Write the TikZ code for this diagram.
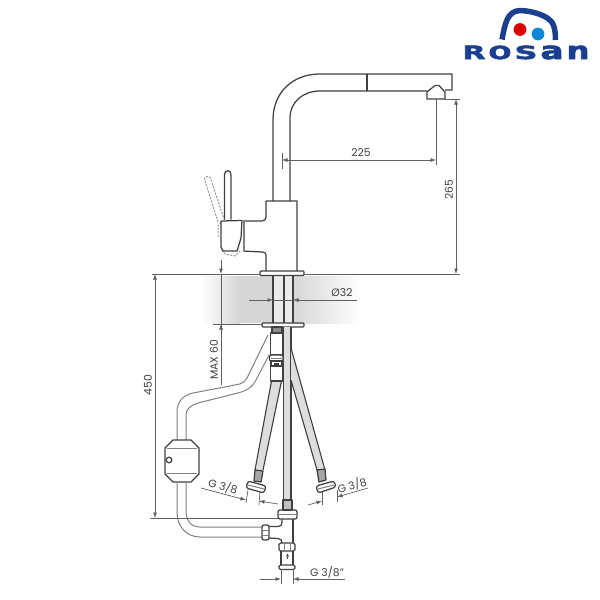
\documentclass[tikz,border=0pt]{standalone}
\usepackage{fontspec}
\setmainfont{Poppins}
\newfontfamily\logofont[FakeBold=2.5]{DejaVu Sans Bold}
\usetikzlibrary{arrows.meta,calc}
\definecolor{ink}{HTML}{404040}
\definecolor{dimc}{HTML}{606060}
\definecolor{pipec}{HTML}{808080}
\definecolor{logob}{HTML}{1B3F8F}
\definecolor{band}{HTML}{D6D6D6}
\definecolor{hosec}{HTML}{DDDDDD}
\tikzset{
  body/.style={draw=ink,line width=1.25pt,line join=round},
  thin body/.style={draw=pipec,line width=1pt},
  dimline/.style={draw=dimc,line width=.7pt},
  dimarrow/.style={dimline,{Latex[length=5.5pt,width=4pt]}-{Latex[length=5.5pt,width=4pt]}},
  onearrow/.style={dimline,-{Latex[length=5.5pt,width=4pt]}},
  dimtext/.style={text=ink,font=\fontsize{10.8}{11}\selectfont,inner sep=0pt},
  ghost/.style={draw=gray!80,line width=1pt,dash pattern=on 2.2pt off 1.2pt},
  hoseedge/.style={draw=ink,line width=1.1pt},
}
\newcommand{\logoletter}[1]{\resizebox{23pt}{13.5pt}{#1}}
\begin{document}
\begin{tikzpicture}[x=1pt,y=-1pt]
\useasboundingbox (0,0) rectangle (600,600);
% counter band
\shade[left color=white,right color=band,draw=none] (200,276) rectangle (240,323);
\fill[band] (240,276) rectangle (294,323);
\fill[white!92!black] (273,276) rectangle (293,323);
\shade[left color=band,right color=white,draw=none] (293,276) rectangle (362,323);
% logo
\draw[logob,line width=5.5pt,line cap=butt,line join=round] (502,39.5) .. controls (505,24) and (507,11) .. (520,10.5) .. controls (533,11) and (543,15) .. (548,18.5) .. controls (554,22) and (555.5,30) .. (555.5,40);
\fill[red!85!black] (520,29.5) circle (6.4);
\fill[cyan!70!blue] (538,34) circle (6.4);
\node[inner sep=0pt,anchor=center,text=logob] (logotext) at (526,52.5)
  {\logofont\logoletter{R}\hspace{3pt}\logoletter{O}\hspace{3pt}\logoletter{S}\hspace{3pt}\logoletter{a}\hspace{3pt}\logoletter{n}};
% spout
\draw[body] (273,201) -- (273,120) .. controls (273,92) and (293,74) .. (320,74) -- (452,74) -- (452,90) -- (445,90);
\draw[body] (290,201) -- (290,118) .. controls (290,102) and (303,91) .. (320,91) -- (427,91);
\draw[body] (367,74) -- (367,91);
\draw[body] (427,99) -- (427,92) -- (435,85.5) -- (439,85.5) -- (445,92) -- (445,99) -- cycle;
% body
\draw[body] (266,271) -- (266,255) .. controls (266,253) and (265,252) .. (262,252) -- (243,251);
\draw[body] (243,221) -- (262,221) .. controls (265,221) and (266,219) .. (266,217) -- (266,201) -- (297,201) -- (297,271);
\draw[body,rounded corners=1pt] (260,271) rectangle (304,275.5);
% handle
\draw[ghost,rounded corners=2pt] (218,222) -- (205,181) .. controls (204,176) and (210,176) .. (211,180) -- (224,219);
\draw[ghost] (221,222) -- (218,226) -- (218,238);
\draw[ghost] (222,250) -- (225,254) -- (235,256) -- (241,250);
\draw[body] (224.5,219.5) -- (224.5,174.5) .. controls (224.5,169.5) and (231,169.5) .. (231,174.5) -- (231,219.5);
\draw[body,line join=round] (221,221) -- (242,220.5) -- (241,238) -- (237,251) -- (223,251) -- (221,247) -- cycle;
\draw[line width=2pt,draw=gray] (243.5,221) -- (243.5,250);
% mount pipes
\draw[body] (273,275.5) -- (273,323);
\draw[body] (284,275.5) -- (284,323);
\draw[body] (293,275.5) -- (293,323);
\draw[body,rounded corners=1pt] (262,323) rectangle (304,327);
% centre hose
\fill[hosec] (284,327) rectangle (291,500);
\draw[hoseedge] (283.5,327) -- (283.5,500);
\draw[hoseedge] (291,327) -- (291,500);
% left hose
\fill[hosec] (271,381) -- (282,381) -- (263,470) -- (255,470) -- cycle;
\draw[hoseedge] (271.5,381) -- (255,470);
\draw[hoseedge] (281.5,381) -- (263,470);
% right hose
\fill[hosec] (291,380) -- (291,348) -- (325,470) -- (317,470) -- cycle;
\draw[hoseedge] (291,380) -- (317,470);
\draw[hoseedge] (291,348) -- (325,470);
% connector under flange
\draw[body,fill=black!45] (272,327) rectangle (282,333);
\draw[body,fill=white] (270.5,333) rectangle (282.5,355);
\draw[body,fill=white,rounded corners=1pt] (269.5,355) rectangle (283,361);
\draw[thin body] (271,358) -- (282,358);
\draw[body,fill=white] (271,361) rectangle (282,366);
\fill[ink] (274,362.5) rectangle (279,364.5);
\draw[body,fill=white] (270.5,366) rectangle (282.5,381);
% hose ends
\draw[body,fill=black!35] (255,470) -- (263,471) -- (261,482) -- (254,481) -- cycle;
\draw[body,fill=white,rounded corners=2.5pt] (248,481) -- (266,486) -- (264,493) -- (246,488) -- cycle;
\draw[thin body] (248,485) -- (264,489);
\draw[body,fill=black!35] (317,470) -- (325,469) -- (326,480) -- (319,482) -- cycle;
\draw[body,fill=white,rounded corners=2.5pt] (316,486) -- (334,481) -- (336,487) -- (318,493) -- cycle;
\draw[thin body] (318,489) -- (334,485);
% flexible hose and box
\draw[thin body] (268,335) -- (247,378) .. controls (243,385) and (238,384) .. (230,386) -- (193,393) .. controls (183,395) and (177,402) .. (177,412) -- (177,440);
\draw[thin body] (269,355) -- (256,380) .. controls (251,389) and (245,391) .. (238,393) -- (198,403) .. controls (191,405) and (186,409) .. (186,415) -- (186,440);
\draw[body] (173,440) -- (191,440) -- (199,448) -- (199,474) -- (191,482) -- (173,482) -- (165,474) -- (165,448) -- cycle;
\draw[thin body] (167,448) -- (197,448);
\draw[thin body] (167,473) -- (197,473);
\draw[body] (169,460) circle (2.8);
\draw[thin body] (177,482) -- (177,512) .. controls (177,527) and (187,537) .. (200,537) -- (262,537);
\draw[thin body] (186,482) -- (186,510) .. controls (186,521) and (191,527) .. (200,527) -- (262,527);
% tee
\draw[body] (269,526.5) -- (278,526.5) .. controls (281,526.5) and (282,525) .. (282,522) -- (282,519);
\draw[body] (293,519) -- (293,543);
\draw[body] (269,538) -- (278,538.5) .. controls (281,539) and (282,540) .. (282,543);
\draw[body,fill=white,rounded corners=2pt] (262,525) rectangle (269,540);
\draw[thin body] (262,530) -- (269,530);
\draw[thin body] (262,535) -- (269,535);
\draw[body,fill=white,rounded corners=2pt] (278,510) rectangle (297,519);
\draw[thin body] (279,514) -- (296,514);
\draw[body,fill=black!25] (283,500) rectangle (292,510);
\draw[body,fill=white,rounded corners=1.5pt] (279,543) rectangle (295,551);
\draw[thin body] (284,543) -- (284,551);
\draw[thin body] (290,543) -- (290,551);
\draw[body] (281,551) -- (281,565);
\draw[body] (293,551) -- (293,565);
\draw[body,rounded corners=1.5pt] (279,565) rectangle (295,569.5);
\fill[ink] (286.8,557) rectangle (288.2,559);
\fill[ink] (287.5,553.5) -- (289,556.5) -- (286,556.5) -- cycle;
% worktop line
\coordinate (wl) at (152,274);
\coordinate (wr) at (460,274);
\draw[draw=dimc,line width=.8pt] (wl) -- (260,274);
\draw[draw=dimc,line width=.8pt] (304,274) -- (wr);
% dim 225
\coordinate (a1) at (282,160);
\coordinate (a2) at (436,160);
\draw[dimline] (282,153) -- (282,169);
\draw[dimline] (436,99) -- (436,165);
\draw[dimarrow] (a1) -- (a2);
\node[dimtext] (t225) at (361,153) {225};
% dim 265
\coordinate (b1) at (456,99);
\coordinate (b2) at (456,274);
\draw[dimline] (445,99) -- (460,99);
\draw[dimarrow] (b1) -- (b2);
\node[dimtext,rotate=90] (t265) at (449,190) {265};
% dim 450
\coordinate (c1) at (155,274);
\coordinate (c2) at (155,518);
\draw[dimline] (150,518) -- (278,518);
\draw[dimarrow] (c1) -- (c2);
\node[dimtext,rotate=90] (t450) at (148,385) {450};
% dim max 60
\coordinate (d0) at (221,260);
\coordinate (d1) at (221,274);
\coordinate (d2) at (221,385);
\coordinate (d3) at (221,324);
\draw[onearrow] (d0) -- (d1);
\draw[dimline] (d1) -- (d2);
\draw[onearrow] (d2) -- (d3);
\draw[dimline] (213,324) -- (262,324);
\node[dimtext,rotate=90] (tmax) at (214,360) {MAX 60};
% dim dia 32
\coordinate (e1) at (249,300);
\coordinate (e2) at (273,300);
\coordinate (e3) at (357,300);
\coordinate (e4) at (293,300);
\draw[onearrow] (e1) -- (e2);
\draw[onearrow] (e3) -- (e4);
\draw[dimline] (273,300) -- (293,300);
\node[dimtext] (tdia) at (342,293) {Ø32};
% G 3/8 left
\coordinate (f1) at (201,488);
\coordinate (f2) at (246,500);
\coordinate (f3) at (278,504);
\coordinate (f4) at (259,501);
\draw[dimline] (248,490) -- (246,503);
\draw[dimline] (260,492) -- (259,505);
\draw[onearrow] (f1) -- (f2);
\draw[onearrow] (f3) -- (f4);
\node[dimtext,rotate=-15] (tgl) at (223,486.5) {G 3/8};
% G 3/8 right
\coordinate (g1) at (368,488);
\coordinate (g2) at (337,497);
\coordinate (g3) at (308,505);
\coordinate (g4) at (322,501);
\draw[dimline] (322,492) -- (322,505);
\draw[dimline] (337,490) -- (337,502);
\draw[onearrow] (g1) -- (g2);
\draw[onearrow] (g3) -- (g4);
\node[dimtext,rotate=15] (tgr) at (352,485.5) {G 3/8};
% G 3/8"
\coordinate (h1) at (260,579);
\coordinate (h2) at (281,579);
\coordinate (h3) at (345,579);
\coordinate (h4) at (293,579);
\draw[dimline] (281,569) -- (281,584);
\draw[dimline] (293,569) -- (293,584);
\draw[onearrow] (h1) -- (h2);
\draw[onearrow] (h3) -- (h4);
\node[dimtext] (tgb) at (327,572.5) {G 3/8"};
\end{tikzpicture}
\end{document}
